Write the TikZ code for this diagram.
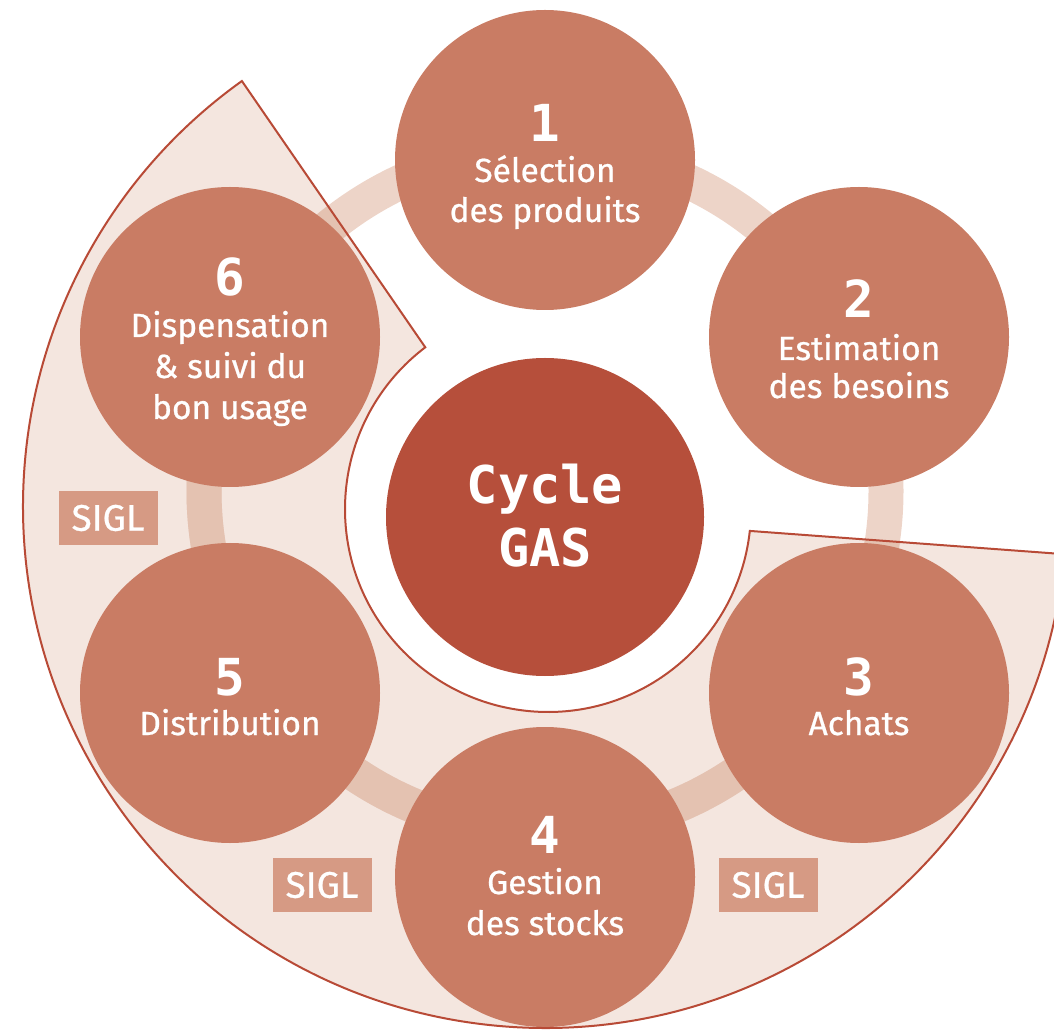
\documentclass[tikz,border=0pt]{standalone}
\usepackage{fontspec}
\setmainfont{Fira Sans}[UprightFeatures={FakeBold=0.7}]
\newfontfamily\monofont{DejaVu Sans Mono}
\usetikzlibrary{calc}
\definecolor{circ}{RGB}{201,124,100}
\definecolor{centc}{RGB}{182,79,59}
\definecolor{sectfill}{RGB}{244,230,223}
\definecolor{outl}{RGB}{184,74,54}
\definecolor{bandlight}{RGB}{237,212,200}
\definecolor{banddark}{RGB}{228,194,177}
\definecolor{siglc}{RGB}{214,154,132}
\begin{document}
\begin{tikzpicture}[x=1pt,y=1pt,
  stage/.style={circle, fill=circ, minimum size=300pt, inner sep=0pt},
  numtxt/.style={anchor=base, inner sep=0pt, text=white, font=\monofont\bfseries\fontsize{51}{51}\selectfont},
  lbl/.style={anchor=base, inner sep=0pt, text=white, font=\fontsize{33.5}{40}\selectfont},
  gastxt/.style={anchor=base, inner sep=0pt, text=white, font=\monofont\bfseries\fontsize{52}{52}\selectfont},
  sigl/.style={fill=siglc, minimum width=99pt, minimum height=54pt, inner sep=0pt, text=white, font=\fontsize{37}{37}\selectfont},
  bandstyle/.style={line width=35pt},
  outlinestyle/.style={draw=outl, line width=2pt, line join=miter}
]
\useasboundingbox (0,0) rectangle (1054,1029);
\clip (0,0) rectangle (1054,1029);
\coordinate (Ci) at (548,520);
\coordinate (Co) at (545,523);
\coordinate (A) at ($(Co)+(125.5:522pt)$);
\coordinate (B) at ($(Ci)+(127.2:203pt)$);
\coordinate (E) at ($(Co)+(354.7:522pt)$);
\coordinate (Bc) at (545,538);
% sector fill
\fill[sectfill] (A) -- (B) arc[start angle=127.2, end angle=353.8, radius=203pt] -- (E) arc[start angle=354.7, end angle=125.5, radius=522pt] -- cycle;
% band
\draw[bandstyle, bandlight] (Bc) circle[radius=341pt];
\begin{scope}
\clip (A) -- (B) arc[start angle=127.2, end angle=353.8, radius=203pt] -- (E) arc[start angle=354.7, end angle=125.5, radius=522pt] -- cycle;
\draw[bandstyle, banddark] (Bc) circle[radius=341pt];
\end{scope}
% circles
\node[stage] (c1) at (545,869) {};
\node[stage] (c2) at (859,692) {};
\node[stage] (c3) at (859,336) {};
\node[stage] (c4) at (545,152) {};
\node[stage] (c5) at (230,336) {};
\node[stage] (c6) at (230,692) {};
\node[circle, fill=centc, minimum size=318pt, inner sep=0pt] (gas) at (545,512) {};
% sector outline
\draw[outlinestyle] (A) -- (B) arc[start angle=127.2, end angle=353.8, radius=203pt] -- (E) arc[start angle=354.7, end angle=125.5, radius=522pt] -- cycle;
% texts
\node[gastxt] (g1) at (545,525) {Cycle};
\node[gastxt] (g2) at (545,462) {GAS};
\node[numtxt] (n1) at (545,887) {1};
\node[lbl] (l1a) at (545,847) {Sélection};
\node[lbl] (l1b) at (545,807) {des produits};
\node[numtxt] (n2) at (859,711) {2};
\node[lbl] (l2a) at (859,669) {Estimation};
\node[lbl] (l2b) at (859,631) {des besoins};
\node[numtxt] (n3) at (859,334) {3};
\node[lbl] (l3a) at (859,294) {Achats};
\node[numtxt] (n4) at (545,176) {4};
\node[lbl] (l4a) at (545,135) {Gestion};
\node[lbl] (l4b) at (545,94) {des stocks};
\node[numtxt] (n5) at (230,334) {5};
\node[lbl] (l5a) at (230,294) {Distribution};
\node[numtxt] (n6) at (230,733) {6};
\node[lbl] (l6a) at (230,692) {Dispensation};
\node[lbl] (l6b) at (230,651) {\& suivi du};
\node[lbl] (l6c) at (230,610) {bon usage};
% SIGL boxes
\node[sigl] (s1) at (108,511) {SIGL};
\node[sigl] (s2) at (322,144) {SIGL};
\node[sigl] (s3) at (768,144) {SIGL};
\end{tikzpicture}
\end{document}
